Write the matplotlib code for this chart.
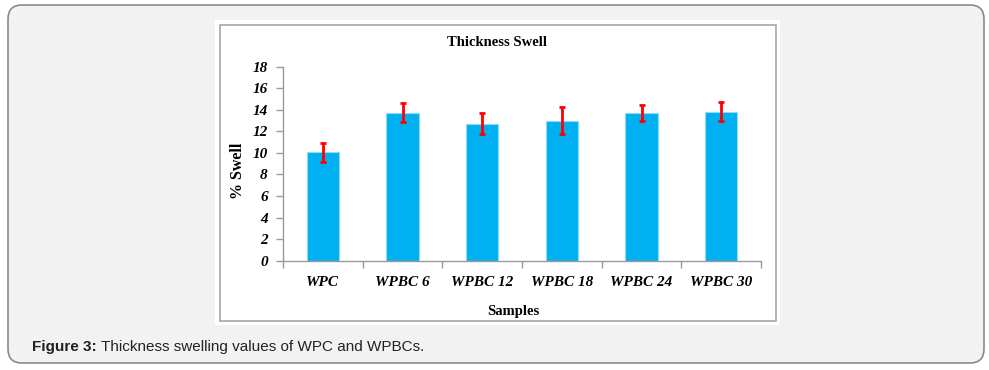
import matplotlib
matplotlib.use("Agg")
import matplotlib.pyplot as plt
from matplotlib.patches import FancyBboxPatch, Rectangle

import numpy as np

# data
samples = ["WPC", "WPBC 6", "WPBC 12", "WPBC 18", "WPBC 24", "WPBC 30"]
swell = [10.05, 13.72, 12.72, 12.97, 13.72, 13.84]
swell_err = [0.85, 0.87, 0.98, 1.25, 0.77, 0.87]
y_ticks = [0, 2, 4, 6, 8, 10, 12, 14, 16, 18]

W, H = 989, 370
BAR_COLOR = "#00B0F0"
ERR_COLOR = "#FF0000"
SERIF = "Liberation Serif"


def px_box(x0, y0, x1, y1):
    # pixel box (top-left origin) -> figure fraction rect
    return [x0 / W, 1 - y1 / H, (x1 - x0) / W, (y1 - y0) / H]


def draw_frame(fig):
    # background layer in pixel coordinates
    bg = fig.add_axes([0, 0, 1, 1])
    bg.set_xlim(0, W)
    bg.set_ylim(H, 0)
    bg.axis("off")

    # outer rounded panel
    bg.add_patch(FancyBboxPatch(
        (8, 5), 976, 358,
        boxstyle="round,pad=0,rounding_size=14",
        facecolor="#f2f2f2", edgecolor="#8a8a8a", linewidth=1.2
    ))
    # white chart area with thin grey border
    bg.add_patch(Rectangle((215, 20), 565, 305, facecolor="white", edgecolor="none"))
    bg.add_patch(Rectangle((219.5, 24.5), 556, 296, facecolor="none",
                           edgecolor="#a6a6a6", linewidth=1.2))

    # caption
    bg.text(32, 347, "Figure 3:", fontsize=11, fontweight="bold",
            family="Liberation Sans", color="#222222", va="center")
    bg.text(101, 347, "Thickness swelling values of WPC and WPBCs.", fontsize=11,
            family="Liberation Sans", color="#222222", va="center")

    # chart title and axis titles
    bg.text(497, 43, "Thickness Swell", fontsize=10.5, fontweight="bold",
            family=SERIF, ha="center", va="center")
    bg.text(513, 312, "Samples", fontsize=10.5, fontweight="bold",
            family=SERIF, ha="center", va="center")
    bg.text(238, 171, "% Swell", fontsize=11.5, fontweight="bold",
            family=SERIF, ha="center", va="center", rotation=90)


def draw_chart(fig):
    ax = fig.add_axes(px_box(283, 66.7, 761, 260.7))
    ax.patch.set_alpha(0)

    x = np.arange(len(samples))
    ax.bar(x, swell, width=0.41, color=BAR_COLOR, edgecolor="#8fdaf7",
           linewidth=0.8, zorder=2)
    ax.errorbar(x, swell, yerr=swell_err, fmt="none", ecolor=ERR_COLOR,
                elinewidth=2, capsize=2.5, capthick=2, zorder=3)

    ax.set_xlim(-0.5, len(samples) - 0.5)
    ax.set_ylim(0, 18)

    # ticks at category boundaries, labels at centres
    ax.set_xticks(np.arange(-0.5, len(samples)), labels=[""] * (len(samples) + 1))
    ax.set_xticks(x, labels=samples, minor=True)
    ax.tick_params(axis="x", which="major", length=5, color="#9a9a9a", width=1)
    ax.tick_params(axis="x", which="minor", length=0, pad=11)
    ax.set_yticks(y_ticks)
    ax.tick_params(axis="y", length=5, color="#9a9a9a", width=1, pad=6)

    for lbl in ax.get_xticklabels(minor=True) + ax.get_yticklabels():
        lbl.set_family(SERIF)
        lbl.set_fontweight("bold")
        lbl.set_fontstyle("italic")
        lbl.set_fontsize(11)

    for side in ("top", "right"):
        ax.spines[side].set_visible(False)
    for side in ("left", "bottom"):
        ax.spines[side].set_color("#9a9a9a")
        ax.spines[side].set_linewidth(1)


def run():
    fig = plt.figure(figsize=(W / 100, H / 100), dpi=100)
    fig.patch.set_facecolor("white")
    draw_frame(fig)
    draw_chart(fig)
    fig.savefig("out.png", dpi=100)


if __name__ == "__main__":
    run()
